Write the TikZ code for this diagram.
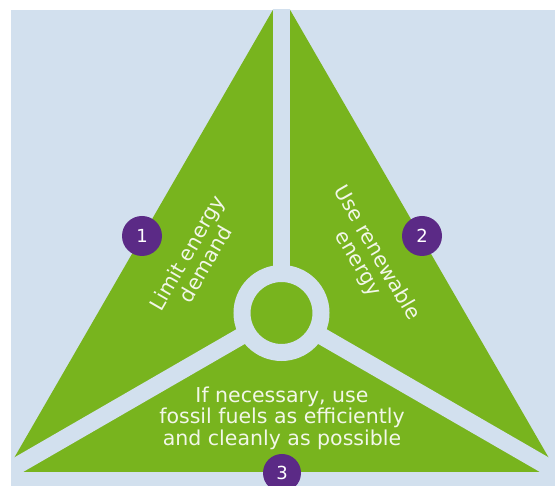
\documentclass[tikz,border=0pt]{standalone}
\usepackage{fontspec}
\setmainfont{DejaVu Sans}
\definecolor{leaf}{HTML}{78B41E}
\definecolor{sky}{HTML}{D2E0EE}
\definecolor{plum}{HTML}{5B2A86}
\definecolor{chalk}{HTML}{F2F7E8}
\begin{document}
\begin{tikzpicture}[x=1pt,y=1pt,
  badge/.style={circle,fill=plum,minimum size=40pt,inner sep=0pt,text=white,
    font=\fontsize{18}{18}\selectfont},
  motto/.style={text=chalk,align=center,font=\fontsize{20.5}{21.5}\selectfont},
  gap/.style={sky,line width=17pt}]
\useasboundingbox (0,0) rectangle (555,486);
\clip (11,0) rectangle (555,476);
\fill[sky] (11,0) rectangle (555,476);
\coordinate (c) at (281.5,173);
% the three blades
\fill[leaf] (6,14) -- (281.5,491) -- (557,14) -- cycle;
\draw[gap] (c) -- +(90:400);
\draw[gap] (c) -- +(210:400);
\draw[gap] (c) -- +(330:400);
\filldraw[fill=leaf,draw=sky,line width=17pt] (c) circle (39.5);
% texts
\node[motto,rotate=60] (demand) at (196,227.5) {Limit energy\\demand};
\node[motto,rotate=-60] (renew) at (367,227.5) {Use renewable\\energy};
\node[motto] (fossil) at (282,68) {If necessary, use\\fossil fuels as efficiently\\and cleanly as possible};
% numbers
\node[badge] (one) at (142,250) {1};
\node[badge] (two) at (422,250) {2};
\node[badge,minimum size=38pt] (three) at (282,13) {3};
\end{tikzpicture}
\end{document}
